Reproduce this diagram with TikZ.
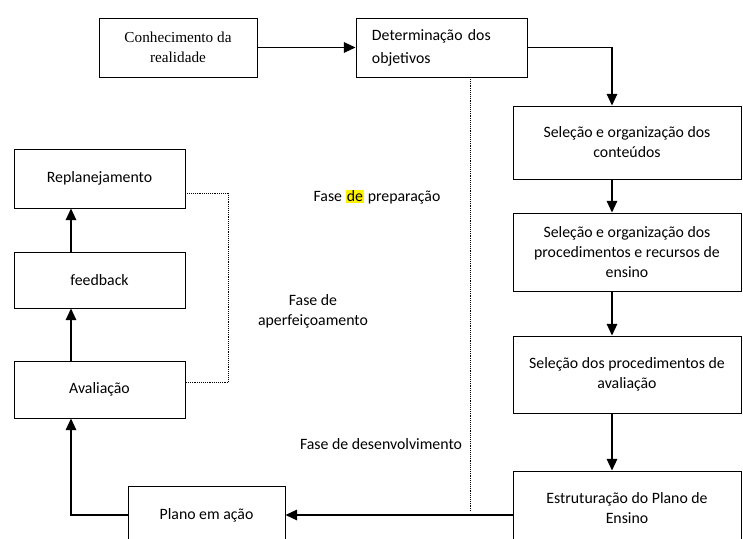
\documentclass[tikz,border=0pt]{standalone}
\usepackage{fontspec}
\setmainfont{Carlito}
\newfontfamily\serifa{Liberation Serif}
\usetikzlibrary{arrows.meta, positioning, calc}

\begin{document}
\begin{tikzpicture}[x=0.03cm, y=-0.03cm,
    caixa/.style={draw, line width=0.8pt, align=center, inner sep=2pt,
      font=\fontsize{13.5}{17}\selectfont},
    seta/.style={line width=1.3pt, -{Triangle[length=10pt,width=9pt]}},
    ponto/.style={densely dotted, line width=0.6pt},
    fase/.style={align=center, font=\fontsize{13.5}{17}\selectfont}]
  \useasboundingbox (0,0) rectangle (743,539);
  \clip (0,0) rectangle (743,539);

  % fase de preparacao
  \node[caixa, minimum width=4.74cm, minimum height=1.77cm,
      font=\serifa\fontsize{13}{17}\selectfont]
      (conh) at (178,47.5) {Conhecimento da\\realidade};
  \node[caixa, minimum width=5.13cm, minimum height=1.77cm, align=left,
      text width=4.17cm, inner xsep=0.48cm]
      (deter) at (441.5,47.5) {Determinação dos\\[0.09cm]objetivos};
  \node[caixa, minimum width=6.84cm, minimum height=2.19cm]
      (cont) at (627,142.5) {Seleção e organização dos\\conteúdos};
  \node[caixa, minimum width=6.84cm, minimum height=2.34cm]
      (proc) at (627,252) {Seleção e organização dos\\procedimentos e recursos de\\ensino};
  \node[caixa, minimum width=6.84cm, minimum height=2.31cm]
      (selav) at (627,374.5) {Seleção dos procedimentos de\\avaliação};
  \node[caixa, minimum width=6.84cm, minimum height=2.22cm]
      (estr) at (627,508) {Estruturação do Plano de\\Ensino};

  % fase de desenvolvimento / aperfeicoamento
  \node[caixa, minimum width=4.71cm, minimum height=1.74cm]
      (plano) at (206.5,515) {Plano em ação};
  \node[caixa, minimum width=5.13cm, minimum height=1.71cm]
      (avalia) at (99.5,389.5) {Avaliação};
  \node[caixa, minimum width=5.13cm, minimum height=1.68cm]
      (feed) at (99.5,280) {feedback};
  \node[caixa, minimum width=5.13cm, minimum height=1.77cm]
      (repl) at (99.5,178.5) {Replanejamento};

  \draw[seta] (conh) -- (deter);
  \draw[seta] (deter.east) -| ([xshift=-0.45cm]cont.north);
  \draw[seta] ([xshift=-0.45cm]cont.south) -- ([xshift=-0.45cm]proc.north);
  \draw[seta] ([xshift=-0.45cm]proc.south) -- ([xshift=-0.45cm]selav.north);
  \draw[seta] ([xshift=-0.45cm]selav.south) -- ([xshift=-0.45cm]estr.north);
  \draw[seta] (estr.west |- plano.east) -- (plano.east);
  \draw[seta] (plano.west) -| ([xshift=-0.855cm]avalia.south);
  \draw[seta] ([xshift=-0.855cm]avalia.north) -- ([xshift=-0.855cm]feed.south);
  \draw[seta] ([xshift=-0.855cm]feed.north) -- ([xshift=-0.855cm]repl.south);

  \draw[ponto] ([yshift=-0.435cm]repl.east) -- ++(43,0) |- ([yshift=0.225cm]avalia.east);
  \coordinate (divA) at (470,79);
  \coordinate (divB) at (470,512);
  \draw[ponto] (divA) -- (divB);

  \node[fase] (prep) at (377,197)
      {Fase {\setlength{\fboxsep}{1pt}\colorbox{yellow}{de}} preparação};
  \node[fase] (aperf) at (313,311) {Fase de\\aperfeiçoamento};
  \node[fase] (desenv) at (381,444) {Fase de desenvolvimento};
\end{tikzpicture}
\end{document}
